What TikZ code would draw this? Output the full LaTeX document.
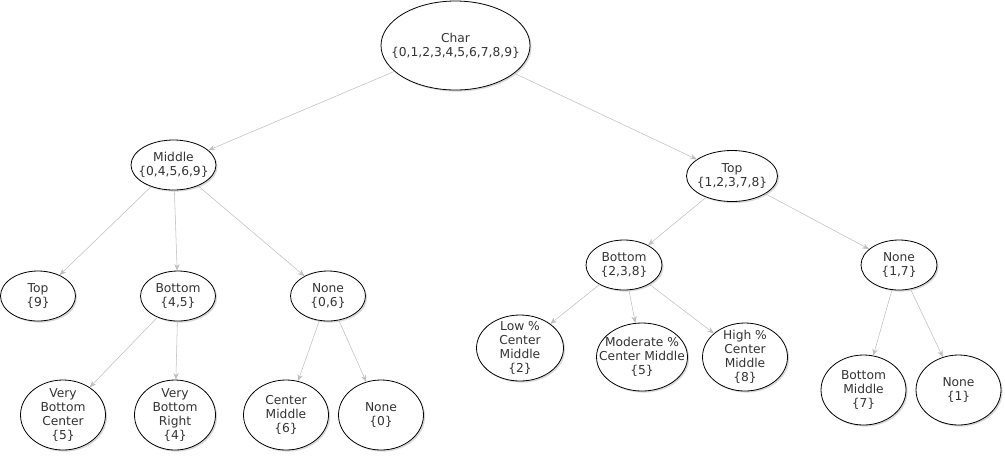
\documentclass[tikz,border=0pt]{standalone}
\usepackage{fontspec}
\setmainfont{DejaVu Sans}
\usetikzlibrary{shapes.geometric, shadows, arrows.meta}

\begin{document}
\begin{tikzpicture}[
    x=0.75pt, y=-0.75pt,
    every node/.style={font=\fontsize{9.2}{10.5}\selectfont, text=black!80},
    tnode/.style={ellipse, draw, semithick, fill=white, align=center, inner sep=-14pt,
        drop shadow={opacity=0.3, shadow xshift=1.2pt, shadow yshift=-1.2pt}},
    edge/.style={draw=black!25, -{Stealth[length=5pt, width=4pt]}},
]

% === Frame ===
\useasboundingbox (0,0) rectangle (1005,455);

% === Root ===
\node[tnode, minimum width=111.75pt, minimum height=66.75pt] (char) at (455.5,45.5) {Char\\\{0,1,2,3,4,5,6,7,8,9\}};

% === Second level ===
\node[tnode, minimum width=63.75pt, minimum height=37.5pt] (middle) at (173.5,165) {Middle\\\{0,4,5,6,9\}};
\node[tnode, minimum width=68.25pt, minimum height=38.25pt] (top) at (732,176) {Top\\\{1,2,3,7,8\}};

% === Third level, left ===
\node[tnode, minimum width=56.25pt, minimum height=37.5pt] (mtop) at (38,296) {Top\\\{9\}};
\node[tnode, minimum width=56.25pt, minimum height=37.5pt] (mbottom) at (178,296) {Bottom\\\{4,5\}};
\node[tnode, minimum width=56.25pt, minimum height=37.5pt] (mnone) at (328,296) {None\\\{0,6\}};

% === Third level, right ===
\node[tnode, minimum width=57pt, minimum height=37.5pt] (tbottom) at (624,265) {Bottom\\\{2,3,8\}};
\node[tnode, minimum width=57pt, minimum height=37.5pt] (tnone) at (899,265) {None\\\{1,7\}};

% === Leaves, left ===
\node[tnode, minimum width=63.75pt, minimum height=52.5pt] (vbc) at (63,415) {Very\\Bottom\\Center\\\{5\}};
\node[tnode, minimum width=60.75pt, minimum height=52.5pt] (vbr) at (175,415) {Very\\Bottom\\Right\\\{4\}};
\node[tnode, minimum width=63.75pt, minimum height=52.5pt] (cm) at (286,415) {Center\\Middle\\\{6\}};
\node[tnode, minimum width=63.75pt, minimum height=52.5pt] (none0) at (381,415) {None\\\{0\}};

% === Leaves, right ===
\node[tnode, minimum width=65.25pt, minimum height=49.5pt] (low) at (520,348) {Low \%\\Center\\Middle\\\{2\}};
\node[tnode, minimum width=68.25pt, minimum height=51pt] (moderate) at (642,357) {Moderate \%\\Center Middle\\\{5\}};
\node[tnode, minimum width=63.75pt, minimum height=51pt] (high) at (745,357) {High \%\\Center\\Middle\\\{8\}};
\node[tnode, minimum width=63.75pt, minimum height=52.5pt] (bm) at (863.5,390) {Bottom\\Middle\\\{7\}};
\node[tnode, minimum width=63.75pt, minimum height=52.5pt] (none1) at (958.5,390) {None\\\{1\}};

% === Connectors ===
\draw[edge] (char) -- (middle);
\draw[edge] (char) -- (top);
\draw[edge] (middle) -- (mtop);
\draw[edge] (middle) -- (mbottom);
\draw[edge] (middle) -- (mnone);
\draw[edge] (mbottom) -- (vbc);
\draw[edge] (mbottom) -- (vbr);
\draw[edge] (mnone) -- (cm);
\draw[edge] (mnone) -- (none0);
\draw[edge] (top) -- (tbottom);
\draw[edge] (top) -- (tnone);
\draw[edge] (tbottom) -- (low);
\draw[edge] (tbottom) -- (moderate);
\draw[edge] (tbottom) -- (high);
\draw[edge] (tnone) -- (bm);
\draw[edge] (tnone) -- (none1);

\end{tikzpicture}
\end{document}
